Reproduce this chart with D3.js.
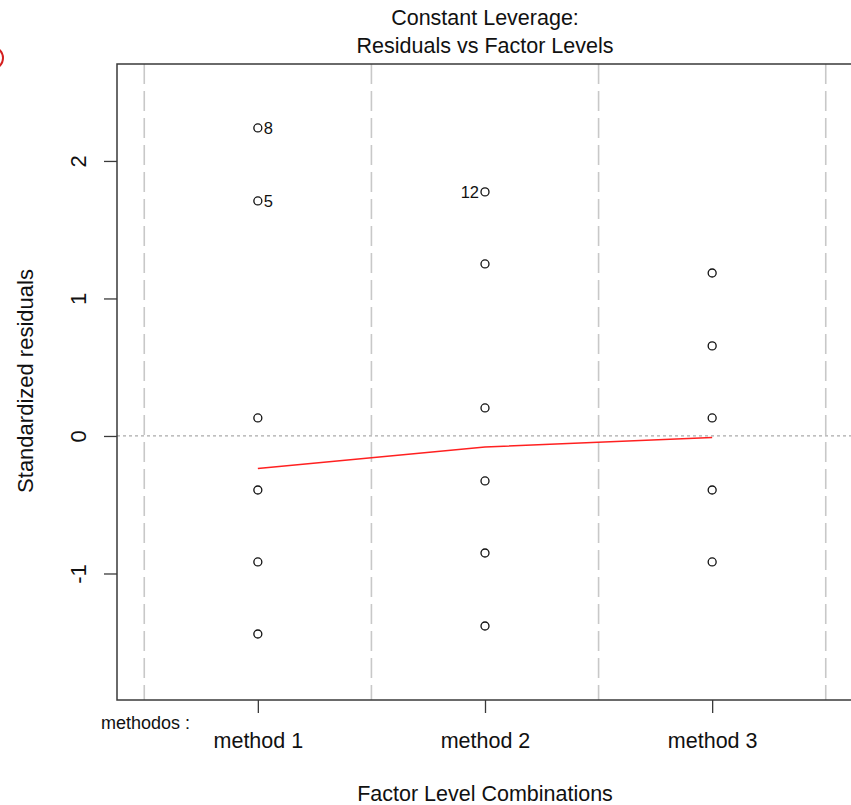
<!DOCTYPE html>
<html>
<head>
<meta charset="utf-8">
<script src="https://cdn.jsdelivr.net/npm/d3@7"></script>
<style>
  html, body { margin: 0; padding: 0; background: #fff; }
  svg { display: block; }
  text { font-family: "Liberation Sans", Arial, sans-serif; fill: #111; }
</style>
</head>
<body>
<div id="chart"></div>
<script>
// ---- data ----
const categories = ["method 1", "method 2", "method 3"];
const factorName = "methodos :";
const method1Residuals = [2.24, 1.709, 0.131, -0.393, -0.916, -1.44];
const method2Residuals = [1.775, 1.251, 0.204, -0.327, -0.851, -1.382];
const method3Residuals = [1.185, 0.655, 0.131, -0.393, -0.916];
const method1Ids = ["8", "5", "", "", "", ""];
const method2Ids = ["12", "", "", "", "", ""];
const method3Ids = ["", "", "", "", ""];
const smoothValues = [-0.236, -0.08, -0.012];
const yTicks = [-1, 0, 1, 2];
const yTickLabels = ["-1", "0", "1", "2"];
const levelBoundaries = [0.5, 1.5, 2.5, 3.5];
const titleLines = ["Constant Leverage:", "Residuals vs Factor Levels"];
const xTitle = "Factor Level Combinations";
const yTitle = "Standardized residuals";

// ---- layout ----
const W = 851, H = 805;
const mLeft = 117, mTop = 64, mRight = 853, mBottom = 700;

const svg = d3.select("#chart").append("svg").attr("width", W).attr("height", H);

const x = d3.scaleLinear().domain([0.38, 3.62]).range([mLeft, mRight]);
const y = d3.scaleLinear().domain([-1.92, 2.705]).range([mBottom, mTop]);

// red circle fragment at the very left
svg.append("circle").attr("cx", -8).attr("cy", 58).attr("r", 11)
  .attr("fill", "none").attr("stroke", "#d42020").attr("stroke-width", 2);

// dashed level boundaries
svg.append("g").selectAll("line").data(levelBoundaries).join("line")
  .attr("x1", d => x(d)).attr("x2", d => x(d))
  .attr("y1", mTop).attr("y2", mBottom)
  .attr("stroke", "#c8c8c8").attr("stroke-width", 1.6)
  .attr("stroke-dasharray", "20,7");

// dotted zero line
svg.append("line")
  .attr("x1", mLeft).attr("x2", W).attr("y1", y(0)).attr("y2", y(0))
  .attr("stroke", "#aaaaaa").attr("stroke-width", 1.2)
  .attr("stroke-dasharray", "3,3");

// points
const series = [
  { level: 1, vals: method1Residuals, ids: method1Ids, side: "right" },
  { level: 2, vals: method2Residuals, ids: method2Ids, side: "left" },
  { level: 3, vals: method3Residuals, ids: method3Ids, side: "right" }
];
const pts = [];
series.forEach(s => s.vals.forEach((v, i) => pts.push({ lx: s.level, v, id: s.ids[i], side: s.side })));

svg.append("g").selectAll("circle").data(pts).join("circle")
  .attr("cx", d => x(d.lx)).attr("cy", d => y(d.v)).attr("r", 4)
  .attr("fill", "none").attr("stroke", "#111").attr("stroke-width", 1.3);

svg.append("g").selectAll("text").data(pts.filter(d => d.id)).join("text")
  .attr("x", d => d.side === "right" ? x(d.lx) + 6 : x(d.lx) - 6)
  .attr("y", d => y(d.v) + 6)
  .attr("text-anchor", d => d.side === "right" ? "start" : "end")
  .attr("font-size", 16.5)
  .text(d => d.id);

// smooth line
svg.append("path")
  .datum(smoothValues.map((v, i) => [i + 1, v]))
  .attr("d", d3.line().x(d => x(d[0])).y(d => y(d[1])))
  .attr("fill", "none").attr("stroke", "#ff2020").attr("stroke-width", 1.5);

// box
svg.append("rect").attr("x", mLeft).attr("y", mTop)
  .attr("width", mRight - mLeft).attr("height", mBottom - mTop)
  .attr("fill", "none").attr("stroke", "#3a3a3a").attr("stroke-width", 1.5);

// y axis
const yAxis = d3.axisLeft(y).tickValues(yTicks).tickSize(13).tickPadding(0)
  .tickFormat((d, i) => yTickLabels[i]);
const gy = svg.append("g").attr("transform", `translate(${mLeft},0)`).call(yAxis);
gy.select(".domain").remove();
gy.selectAll(".tick line").attr("stroke", "#3a3a3a").attr("stroke-width", 1.3);
gy.selectAll(".tick text")
  .attr("x", null).attr("dy", null)
  .attr("text-anchor", "middle")
  .attr("transform", `translate(${86 - mLeft},0) rotate(-90)`)
  .attr("font-size", 22)
  .attr("font-family", "Liberation Sans, Arial, sans-serif")
  .attr("fill", "#111");

// x axis
const xAxis = d3.axisBottom(x).tickValues([1, 2, 3]).tickSize(13).tickPadding(0)
  .tickFormat(d => categories[d - 1]);
const gx = svg.append("g").attr("transform", `translate(0,${mBottom})`).call(xAxis);
gx.select(".domain").remove();
gx.selectAll(".tick line").attr("stroke", "#3a3a3a").attr("stroke-width", 1.3);
gx.selectAll(".tick text")
  .attr("y", 48).attr("dy", null)
  .attr("font-size", 21.5)
  .attr("font-family", "Liberation Sans, Arial, sans-serif")
  .attr("fill", "#111");

// factor name
svg.append("text").attr("x", 190).attr("y", 729).attr("text-anchor", "end")
  .attr("font-size", 18).text(factorName);

// titles
svg.append("g").selectAll("text").data(titleLines).join("text")
  .attr("x", (mLeft + mRight) / 2).attr("y", (d, i) => 25 + i * 28)
  .attr("text-anchor", "middle").attr("font-size", 21.5).text(d => d);

svg.append("text").attr("x", (mLeft + mRight) / 2).attr("y", 801)
  .attr("text-anchor", "middle").attr("font-size", 21.5).text(xTitle);

svg.append("text")
  .attr("transform", `translate(33,${(mTop + mBottom) / 2 - 1}) rotate(-90)`)
  .attr("text-anchor", "middle").attr("font-size", 22).text(yTitle);
</script>
</body>
</html>
